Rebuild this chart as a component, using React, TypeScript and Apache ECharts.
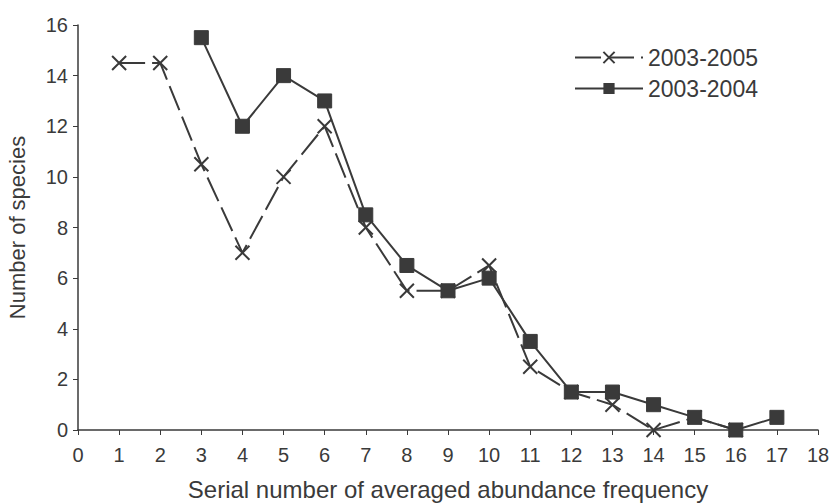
import React, { useEffect, useRef } from "react";
import * as echarts from "echarts";

const xTicks = [0, 1, 2, 3, 4, 5, 6, 7, 8, 9, 10, 11, 12, 13, 14, 15, 16, 17, 18];
const seriesAName = "2003-2005";
const seriesAX = [1, 2, 3, 4, 5, 6, 7, 8, 9, 10, 11, 12, 13, 14, 15, 16];
const seriesAY = [14.5, 14.5, 10.5, 7, 10, 12, 8, 5.5, 5.5, 6.5, 2.5, 1.5, 1, 0, 0.5, 0];
const seriesBName = "2003-2004";
const seriesBX = [3, 4, 5, 6, 7, 8, 9, 10, 11, 12, 13, 14, 15, 16, 17];
const seriesBY = [15.5, 12, 14, 13, 8.5, 6.5, 5.5, 6, 3.5, 1.5, 1.5, 1, 0.5, 0, 0.5];

const C = "#3a3a3a";
const FONT = "Liberation Sans, Arial, sans-serif";

export default function App() {
  const ref = useRef<HTMLDivElement>(null);
  useEffect(() => {
    const chart = echarts.init(ref.current!, null, { renderer: "svg" });
    chart.setOption({
      animation: false,
      backgroundColor: "#fff",
      textStyle: { fontFamily: FONT },
      grid: { left: 78, right: 16, top: 25, bottom: 74, containLabel: false, outerBoundsMode: "none" },
      legend: {
        orient: "vertical",
        left: 569,
        top: 41,
        itemWidth: 68,
        itemHeight: 14,
        itemGap: 8,
        textStyle: { fontSize: 23, color: C, fontFamily: FONT, padding: [0, 0, 0, 0] },
        data: [seriesAName, seriesBName],
      },
      xAxis: {
        type: "value",
        min: 0,
        max: 18,
        interval: 1,
        name: "Serial number of averaged abundance frequency",
        nameLocation: "middle",
        nameGap: 47,
        nameTextStyle: { fontSize: 24, color: C, fontFamily: FONT },
        axisLine: { lineStyle: { color: C, width: 1.5 } },
        axisTick: { show: true, length: 5, lineStyle: { color: C } },
        axisLabel: {
          fontSize: 20,
          color: C,
          margin: 15,
          formatter: (v: number) => (xTicks.includes(v) ? String(v) : ""),
        },
        splitLine: { show: false },
      },
      yAxis: {
        type: "value",
        min: 0,
        max: 16,
        interval: 2,
        name: "Number of species",
        nameLocation: "middle",
        nameGap: 50,
        nameTextStyle: { fontSize: 22, color: C, fontFamily: FONT },
        axisLine: { show: true, lineStyle: { color: C, width: 1.5 } },
        axisTick: { show: true, length: 5, lineStyle: { color: C } },
        axisLabel: { fontSize: 20, color: C, margin: 10 },
        splitLine: { show: false },
      },
      series: [
        {
          name: seriesAName,
          type: "line",
          data: seriesAX.map((x, i) => [x, seriesAY[i]]),
          symbol: "path://M0,0L10,10M10,0L0,10",
          symbolSize: 14,
          showAllSymbol: true,
          lineStyle: { color: C, width: 2, type: [26, 7] },
          itemStyle: { color: "none", borderColor: C, borderWidth: 2 },
          z: 2,
        },
        {
          name: seriesBName,
          type: "line",
          data: seriesBX.map((x, i) => [x, seriesBY[i]]),
          symbol: "rect",
          symbolSize: 14,
          showAllSymbol: true,
          lineStyle: { color: C, width: 2 },
          itemStyle: { color: C, borderColor: C },
          z: 3,
        },
      ],
    });
    return () => chart.dispose();
  }, []);
  return <div ref={ref} style={{ width: 834, height: 504, position: "absolute", left: 0, top: 0 }} />;
}
